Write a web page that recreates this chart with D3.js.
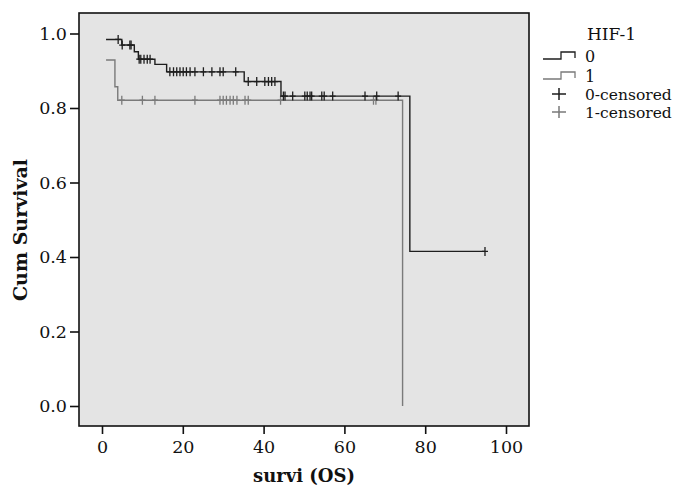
<!DOCTYPE html>
<html>
<head>
<meta charset="utf-8">
<script src="https://cdn.jsdelivr.net/npm/d3@7"></script>
<style>
  body { margin: 0; background: #fff; }
  svg text { font-family: "DejaVu Serif", serif; fill: #111; }
</style>
</head>
<body>
<div id="chart"></div>
<script>
// 그룹 (HIF-1)
const groups = ["0", "1"];

// HIF-1 = 0: 시작값, 사건 시점, 생존율, 중도절단
const start0 = [1, 0.984];
const eventTimes0 = [4.9, 8.0, 9.0, 13.1, 16.0, 35.2, 44.3, 76.2];
const eventSurv0 = [0.969, 0.951, 0.931, 0.917, 0.897, 0.871, 0.832, 0.415];
const censor0 = [4.0, 5.0, 6.9, 7.2, 9.2, 9.6, 10.4, 11.2, 11.9,
  16.8, 17.7, 18.5, 19.3, 20.1, 20.9, 21.8, 23.0, 25.1, 27.2, 29.2, 30.0, 33.1,
  36.2, 38.3, 40.3, 41.2, 42.0, 42.8,
  44.9, 45.3, 47.2, 50.2, 50.8, 51.5, 51.9, 54.4, 55.0, 57.1, 65.1, 68.0, 73.3,
  94.8];

// HIF-1 = 1
const start1 = [1, 0.929];
const eventTimes1 = [3.2, 3.9, 74.4];
const eventSurv1 = [0.857, 0.821, 0.0];
const censor1 = [4.9, 10.0, 13.1, 23.0, 29.2, 30.0, 30.8, 31.7, 32.5, 33.4,
  35.4, 36.2, 44.2, 67.2, 67.8];

// 축 눈금
const xTicks = [0, 20, 40, 60, 80, 100];
const yTicks = [0, 0.2, 0.4, 0.6, 0.8, 1.0];

const colors = ["#1e1e1e", "#7a7a7a"];

const W = 698, H = 489;
const frame = {left: 79, right: 529, top: 13, bottom: 426};

const svg = d3.select("#chart").append("svg")
  .attr("width", W).attr("height", H);

const x = d3.scaleLinear().domain([0, 100]).range([102, 506]);
const y = d3.scaleLinear().domain([0, 1]).range([406, 33.5]);

// 배경
svg.append("rect")
  .attr("x", frame.left).attr("y", frame.top)
  .attr("width", frame.right - frame.left)
  .attr("height", frame.bottom - frame.top)
  .attr("fill", "#e4e4e4");

// 계단 함수
function survAt(t, start, times, surv) {
  let s = start[1];
  times.forEach((et, i) => { if (et <= t) s = surv[i]; });
  return s;
}

function stepPoints(start, times, surv, censors) {
  const pts = [{t: start[0], s: start[1]}];
  let cur = start[1];
  times.forEach((et, i) => {
    pts.push({t: et, s: cur});
    pts.push({t: et, s: surv[i]});
    cur = surv[i];
  });
  const lastC = d3.max(censors);
  if (lastC > times[times.length - 1]) pts.push({t: lastC, s: cur});
  return pts;
}

const series = [
  {name: groups[0], start: start0, times: eventTimes0, surv: eventSurv0, censor: censor0, color: colors[0]},
  {name: groups[1], start: start1, times: eventTimes1, surv: eventSurv1, censor: censor1, color: colors[1]}
];

const line = d3.line().x(d => x(d.t)).y(d => y(d.s));

// 회색 먼저, 검정 위에
series.slice().reverse().forEach(sr => {
  svg.append("path")
    .datum(stepPoints(sr.start, sr.times, sr.surv, sr.censor))
    .attr("fill", "none")
    .attr("stroke", sr.color)
    .attr("stroke-width", 1.4)
    .attr("d", line);

  const g = svg.append("g").attr("stroke", sr.color).attr("stroke-width", 1.3);
  sr.censor.forEach(t => {
    const cx = x(t), cy = y(survAt(t, sr.start, sr.times, sr.surv));
    g.append("path").attr("d", `M${cx},${cy - 4.5}V${cy + 4.5}M${cx - 3},${cy}H${cx + 3}`);
  });
});

// 테두리
svg.append("rect")
  .attr("x", frame.left).attr("y", frame.top)
  .attr("width", frame.right - frame.left)
  .attr("height", frame.bottom - frame.top)
  .attr("fill", "none")
  .attr("stroke", "#111")
  .attr("stroke-width", 1.6);

// 축
const yAxis = svg.append("g")
  .attr("transform", `translate(${frame.left},0)`)
  .call(d3.axisLeft(y).tickValues(yTicks).tickFormat(d3.format(".1f")).tickSize(9).tickPadding(3));
const xAxis = svg.append("g")
  .attr("transform", `translate(0,${frame.bottom})`)
  .call(d3.axisBottom(x).tickValues(xTicks).tickSize(8).tickPadding(7));

[xAxis, yAxis].forEach(a => {
  a.select(".domain").remove();
  a.selectAll("line").attr("stroke", "#111").attr("stroke-width", 1.6);
  a.selectAll("text").style("font-family", "DejaVu Serif").style("font-size", "17.5px").attr("fill", "#222");
});

// 축 제목
svg.append("text")
  .attr("x", 304).attr("y", 482)
  .attr("text-anchor", "middle")
  .style("font-size", "18px").style("font-weight", "bold")
  .text("survi (OS)");
svg.append("text")
  .attr("transform", "translate(27,230) rotate(-90)")
  .attr("text-anchor", "middle")
  .style("font-size", "19px").style("font-weight", "bold")
  .text("Cum Survival");

// 범례
const lg = svg.append("g");
lg.append("text").attr("x", 587).attr("y", 40).style("font-size", "17px").text("HIF-1");
series.forEach((sr, i) => {
  const yy = 59 + i * 20;
  lg.append("path")
    .attr("d", `M543,${yy}H561V${yy - 7}H575V${yy - 1}`)
    .attr("fill", "none").attr("stroke", sr.color).attr("stroke-width", 1.3);
  lg.append("text").attr("x", 585).attr("y", yy + 3).style("font-size", "16px").text(sr.name);
});
series.forEach((sr, i) => {
  const cy = 94 + i * 18;
  lg.append("path")
    .attr("d", `M${559},${cy - 6}V${cy + 6}M${552},${cy}H${566}`)
    .attr("stroke", sr.color).attr("stroke-width", 1.5);
  lg.append("text").attr("x", 585).attr("y", cy + 6).style("font-size", "15.5px").text(sr.name + "-censored");
});
</script>
</body>
</html>
